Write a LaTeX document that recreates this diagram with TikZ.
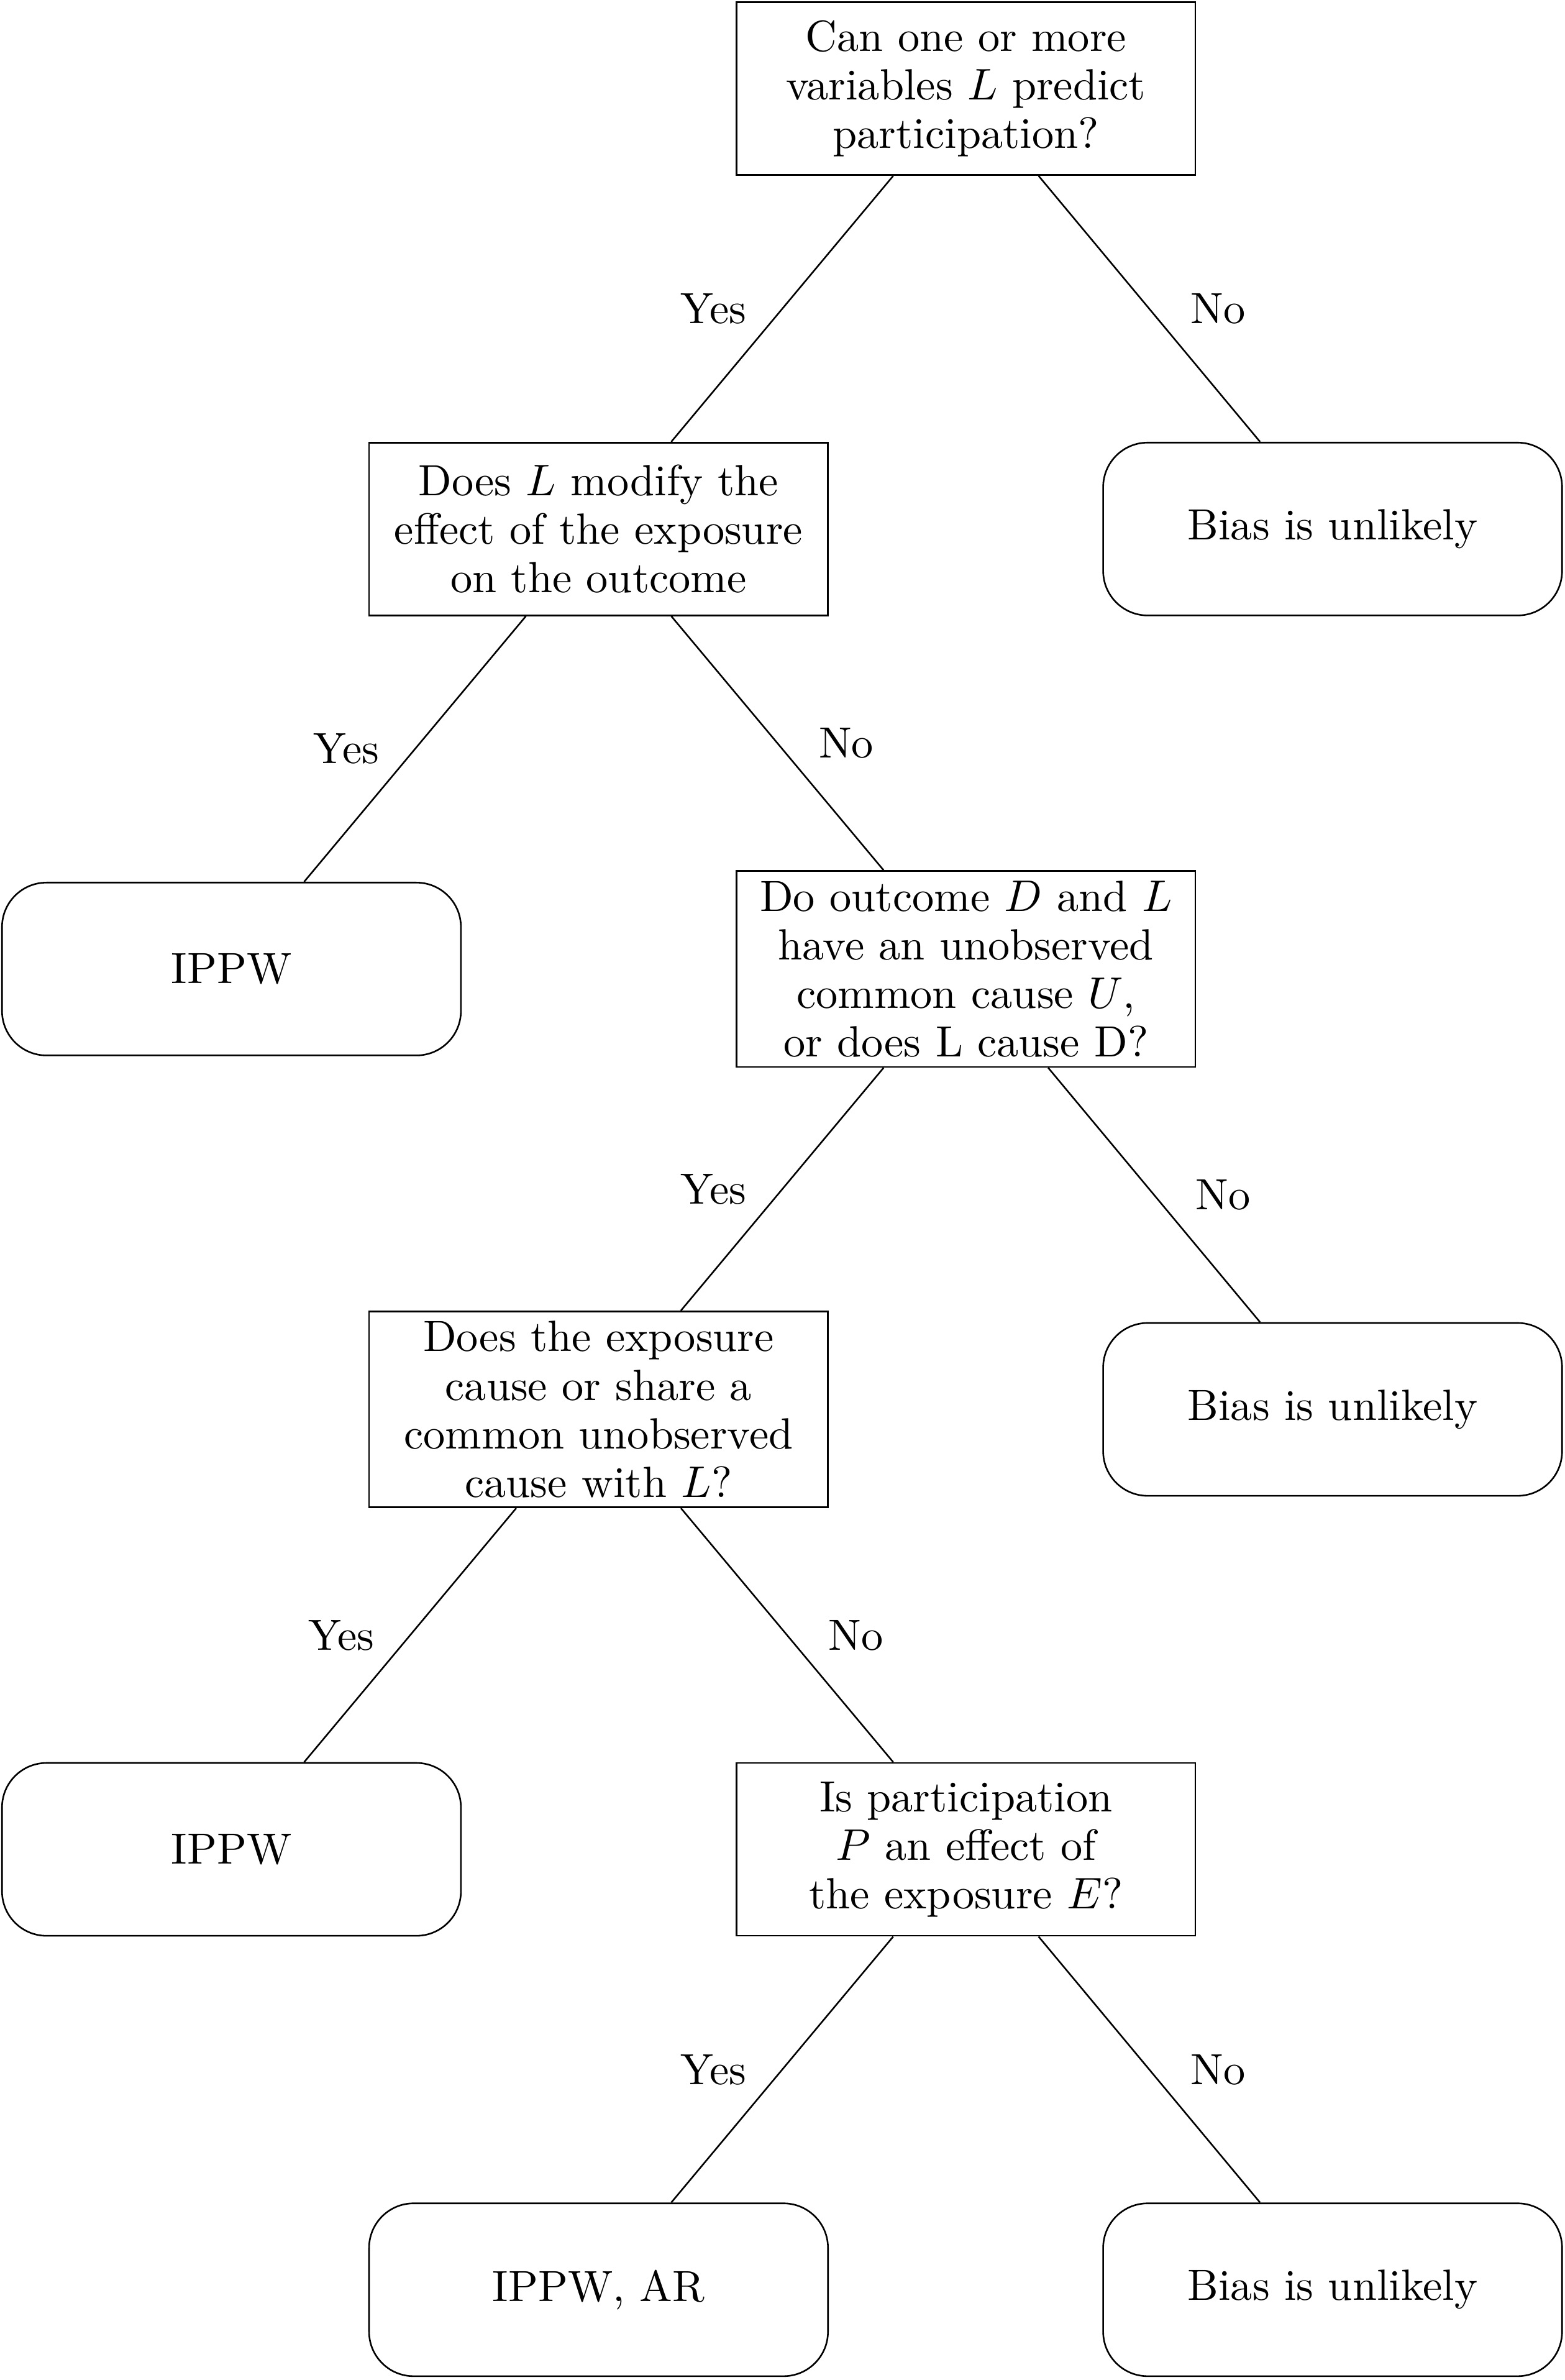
\documentclass[tikz,border=0pt]{standalone}
\begin{document}
\begin{tikzpicture}[x=1pt,y=-1pt,
  every node/.style={font=\fontsize{10.8}{12}\selectfont},
  qbox/.style={draw, line width=0.4pt, minimum width=113.4pt, minimum height=42.7pt, align=center, inner xsep=2pt, inner ysep=2.4pt},
  leaf/.style={qbox, rounded corners=11pt},
  ylab/.style={midway, xshift=-17pt},
  nlab/.style={midway, xshift=17pt}]
\useasboundingbox (0,0) rectangle (386.6,588);
\node[qbox] (A) at (238.7,21.9) {Can one or more\\variables $L$ predict\\participation?};
\node[qbox] (B) at (147.9,130.7) {Does $L$ modify the\\effect of the exposure\\on the outcome};
\node[leaf] (C) at (329.3,130.7) {Bias is unlikely};
\node[leaf] (D) at (57.2,239.4) {IPPW};
\node[qbox] (E) at (238.7,239.4) {Do outcome $D$ and $L$\\have an unobserved\\common cause $U$,\\or does L cause D?};
\node[qbox] (F) at (147.9,348.2) {Does the exposure\\cause or share a\\common unobserved\\cause with $L$?};
\node[leaf] (G) at (329.3,348.2) {Bias is unlikely};
\node[leaf] (H) at (57.2,456.9) {IPPW};
\node[qbox] (I) at (238.7,456.9) {Is participation\\$P$ an effect of\\the exposure $E$?};
\node[leaf] (J) at (147.9,565.7) {IPPW, AR};
\node[leaf] (K) at (329.3,565.7) {Bias is unlikely};
\draw (A) -- node[ylab] {Yes} (B);
\draw (A) -- node[nlab] {No} (C);
\draw (B) -- node[ylab] {Yes} (D);
\draw (B) -- node[nlab] {No} (E);
\draw (E) -- node[ylab] {Yes} (F);
\draw (E) -- node[nlab] {No} (G);
\draw (F) -- node[ylab] {Yes} (H);
\draw (F) -- node[nlab] {No} (I);
\draw (I) -- node[ylab] {Yes} (J);
\draw (I) -- node[nlab] {No} (K);
\end{tikzpicture}
\end{document}
